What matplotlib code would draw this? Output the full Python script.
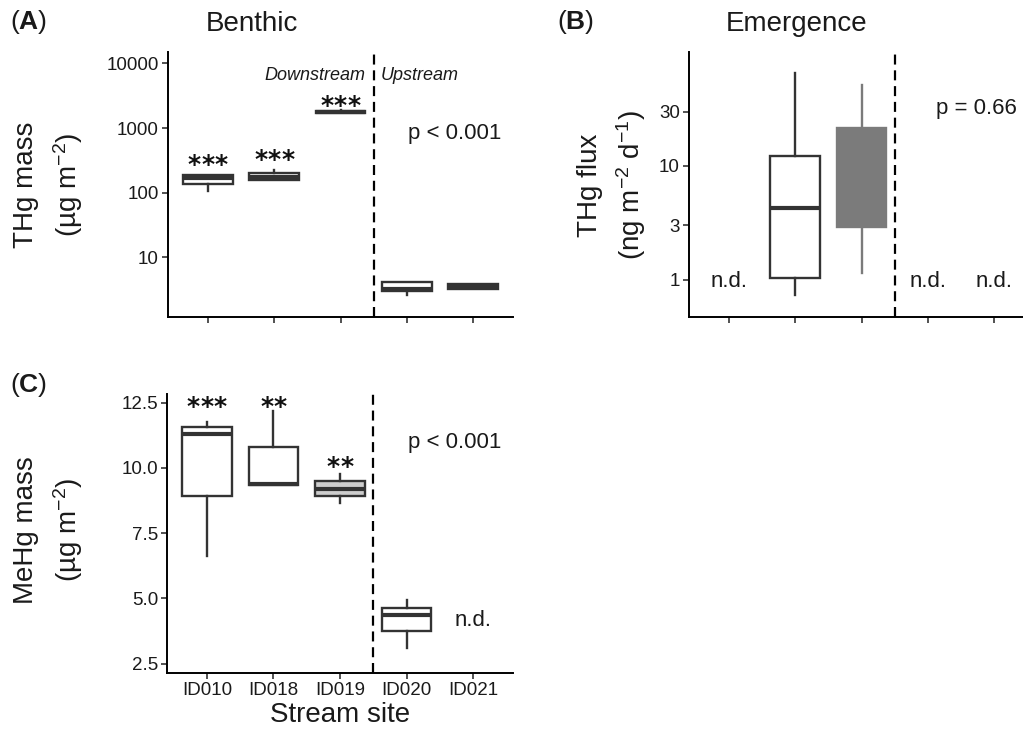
import matplotlib
matplotlib.use("Agg")
import matplotlib.pyplot as plt
from matplotlib.ticker import FixedLocator, NullLocator, FixedFormatter
from matplotlib.transforms import offset_copy

plt.rcParams['font.family'] = ['Liberation Sans', 'DejaVu Sans']
plt.rcParams['mathtext.fontset'] = 'custom'
plt.rcParams['mathtext.rm'] = 'Liberation Sans'
plt.rcParams['mathtext.it'] = 'Liberation Sans:italic'
plt.rcParams['mathtext.bf'] = 'Liberation Sans:bold'
plt.rcParams['mathtext.default'] = 'regular'

sites = ["ID010", "ID018", "ID019", "ID020", "ID021"]

# Panel A: benthic THg mass (ug m-2)
a_pos = [1, 2, 3, 4, 5]
a_whislo = [105, 160, 1720, 2.6, 3.25]
a_q1 = [135, 160, 1740, 3.05, 3.3]
a_med = [172, 178, 1790, 3.3, 3.6]
a_q3 = [190, 203, 1850, 4.1, 3.9]
a_whishi = [190, 228, 1870, 4.2, 3.95]
a_fill = ["white", "white", "#9a9a9a", "white", "white"]
a_stars = ["***", "***", "***"]
a_star_y = [335, 410, 2780]

# Panel B: emergence THg flux (ng m-2 d-1)
b_pos = [2, 3]
b_whislo = [0.74, 1.15]
b_q1 = [1.03, 2.9]
b_med = [4.25, 10.0]
b_q3 = [12.2, 21.4]
b_whishi = [65, 51]
b_fill = ["white", "#7b7b7b"]
b_nd_pos = [1, 4, 5]

# Panel C: benthic MeHg mass (ug m-2)
c_pos = [1, 2, 3, 4]
c_whislo = [6.61, 9.36, 8.66, 3.10]
c_q1 = [8.94, 9.36, 8.91, 3.74]
c_med = [11.28, 9.40, 9.20, 4.38]
c_q3 = [11.56, 10.79, 9.49, 4.64]
c_whishi = [11.76, 12.17, 9.77, 4.93]
c_fill = ["white", "white", "#cdcdcd", "white"]
c_stars = ["***", "**", "**"]
c_star_y = [12.6, 12.6, 10.29]
c_nd_pos = [5]

TXT = "#1a1a1a"
EDGE = "#333333"

fig = plt.figure(figsize=(10.23, 7.31), dpi=100)
W, H = 1023, 731


def add_axes(l, r, t, b):
    return fig.add_axes([l / W, 1 - b / H, (r - l) / W, (b - t) / H])


axA = add_axes(168, 513, 52, 317)
axB = add_axes(689, 1034, 52, 317)
axC = add_axes(167, 513, 394, 673)


def draw_boxes(ax, pos, lo, q1, med, q3, hi, fills, edges=None):
    for i in range(len(pos)):
        s = dict(whislo=lo[i], q1=q1[i], med=med[i], q3=q3[i],
                 whishi=hi[i], fliers=[])
        ec = EDGE if edges is None else edges[i]
        ax.bxp([s], positions=[pos[i]], widths=0.75, showcaps=False,
               showfliers=False, patch_artist=True,
               boxprops=dict(facecolor=fills[i], edgecolor=ec, linewidth=1.7),
               whiskerprops=dict(color=ec, linewidth=1.7),
               medianprops=dict(color=ec, linewidth=3.0, solid_capstyle='butt'))


def style(ax):
    for sp in ["top", "right"]:
        ax.spines[sp].set_visible(False)
    for sp in ["left", "bottom"]:
        ax.spines[sp].set_linewidth(1.4)
        ax.spines[sp].set_color("black")
    ax.set_xlim(0.4, 5.6)
    ax.xaxis.set_major_locator(FixedLocator([1, 2, 3, 4, 5]))
    ax.tick_params(axis='both', length=4.5, width=1.2, color='#333333',
                   labelsize=13.5, labelcolor=TXT, pad=2)
    ax.yaxis.set_minor_locator(NullLocator())
    ax.axvline(3.5, color="black", linewidth=1.6, linestyle=(0, (4.5, 2.6)))
    ax.set_facecolor("none")


STAR_SP = 13.5  # px between star centres
STAR_DROP = 13.5  # px from glyph centre to baseline


def stars(ax, x, y, s):
    n = len(s)
    for k in range(n):
        dx = (k - (n - 1) / 2) * STAR_SP
        tr = offset_copy(ax.transData, fig=fig, x=dx, y=-STAR_DROP, units='dots')
        ax.text(x, y, "*", ha='center', va='baseline', fontsize=18,
                fontweight='heavy', color='#111111', family='DejaVu Sans',
                transform=tr)


# Panel A
draw_boxes(axA, a_pos, a_whislo, a_q1, a_med, a_q3, a_whishi, a_fill)
axA.set_yscale('log')
axA.set_ylim(1.2, 15000)
style(axA)
axA.yaxis.set_major_locator(FixedLocator([10, 100, 1000, 10000]))
axA.yaxis.set_major_formatter(FixedFormatter(["10", "100", "1000", "10000"]))
axA.yaxis.set_minor_locator(NullLocator())
axA.set_xticklabels([])
for i, s in enumerate(a_stars):
    stars(axA, a_pos[i], a_star_y[i], s)
axA.text(3.37, 6600, "Downstream", ha='right', va='center', fontsize=13,
         style='italic', color=TXT)
axA.text(3.6, 6600, "Upstream", ha='left', va='center', fontsize=13,
         style='italic', color=TXT)
axA.text(4.72, 820, "p < 0.001", ha='center', va='center', fontsize=16, color=TXT)

# Panel B
draw_boxes(axB, b_pos, b_whislo, b_q1, b_med, b_q3, b_whishi, b_fill,
           edges=[EDGE, "#7b7b7b"])
axB.set_yscale('log')
axB.set_ylim(0.47, 100)
style(axB)
axB.yaxis.set_major_locator(FixedLocator([1, 3, 10, 30]))
axB.yaxis.set_major_formatter(FixedFormatter(["1", "3", "10", "30"]))
axB.yaxis.set_minor_locator(NullLocator())
axB.set_xticklabels([])
for p in b_nd_pos:
    axB.text(p, 0.96, "n.d.", ha='center', va='center', fontsize=16, color=TXT)
axB.text(4.73, 32, "p = 0.66", ha='center', va='center', fontsize=16, color=TXT)

# Panel C
draw_boxes(axC, c_pos, c_whislo, c_q1, c_med, c_q3, c_whishi, c_fill)
axC.set_ylim(2.14, 12.83)
style(axC)
axC.yaxis.set_major_locator(FixedLocator([2.5, 5.0, 7.5, 10.0, 12.5]))
axC.yaxis.set_major_formatter(FixedFormatter(["2.5", "5.0", "7.5", "10.0", "12.5"]))
axC.set_xticklabels(sites)
for i, s in enumerate(c_stars):
    stars(axC, c_pos[i], c_star_y[i], s)
for p in c_nd_pos:
    axC.text(p, 4.16, "n.d.", ha='center', va='center', fontsize=16, color=TXT)
axC.text(4.72, 10.96, "p < 0.001", ha='center', va='center', fontsize=16, color=TXT)

# Titles, labels
fs = 20
fig.text(252 / W, 1 - 24 / H, "Benthic", ha='center', va='center', fontsize=fs, color=TXT)
fig.text(797 / W, 1 - 24 / H, "Emergence", ha='center', va='center', fontsize=fs, color=TXT)
fig.text(10 / W, 1 - 22 / H, r"($\mathbf{A}$)", ha='left', va='center', fontsize=19,
         color=TXT)
fig.text(557 / W, 1 - 22 / H, r"($\mathbf{B}$)", ha='left', va='center', fontsize=19,
         color=TXT)
fig.text(10 / W, 1 - 385 / H, r"($\mathbf{C}$)", ha='left', va='center', fontsize=19,
         color=TXT)

fig.text(26 / W, 1 - 185 / H, "THg mass", rotation=90, ha='center', va='center',
         fontsize=fs, color=TXT)
fig.text(68 / W, 1 - 185 / H, "(µg m$^{-2}$)", rotation=90, ha='center', va='center',
         fontsize=fs, color=TXT)
fig.text(590 / W, 1 - 185 / H, "THg flux", rotation=90, ha='center', va='center',
         fontsize=fs, color=TXT)
fig.text(631 / W, 1 - 185 / H, "(ng m$^{-2}$ d$^{-1}$)", rotation=90, ha='center',
         va='center', fontsize=fs, color=TXT)
fig.text(26 / W, 1 - 530 / H, "MeHg mass", rotation=90, ha='center', va='center',
         fontsize=fs, color=TXT)
fig.text(68 / W, 1 - 530 / H, "(µg m$^{-2}$)", rotation=90, ha='center', va='center',
         fontsize=fs, color=TXT)
fig.text(340 / W, 1 - 715 / H, "Stream site", ha='center', va='center',
         fontsize=fs, color=TXT)

fig.savefig("out.png", dpi=100, facecolor="white")
